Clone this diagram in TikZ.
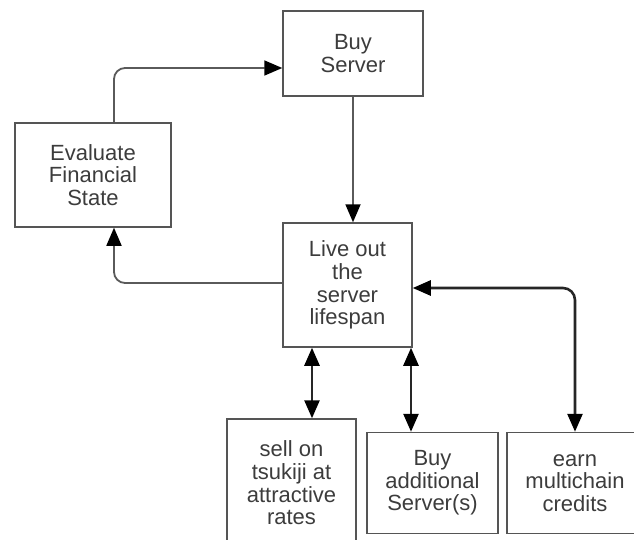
\documentclass[tikz,border=0pt]{standalone}
\usepackage{fontspec}
\setmainfont{Liberation Sans}
\usepackage{tikz}
\usetikzlibrary{positioning,arrows.meta}
\tikzset{>={Triangle[width=15pt,length=18pt,color=black]}}
\definecolor{boxgray}{HTML}{555555}
\definecolor{textgray}{HTML}{3C3C3C}
\definecolor{linegray}{HTML}{5A5A5A}

\begin{document}
\begin{tikzpicture}[
    x=1pt, y=-1pt,
    every node/.style={
        draw=boxgray,
        line width=1.5pt,
        align=center,
        inner sep=0pt,
        text=textgray,
        font=\fontsize{22}{22.7}\selectfont
        },
    upper link/.style={->, draw=linegray, line width=1.8pt, rounded corners=11pt},
    lower link/.style={<->, draw=black!85, line width=2.6pt, rounded corners=12pt}
    ]
    \clip (0,0) rectangle (634,540);
    \begin{scope}[on grid]
    \node[minimum width=140pt, minimum height=85pt] (buy) at (353,53.5) {Buy\\Server};
    \node[minimum width=129pt, minimum height=124pt] (live) [below left = 231.5pt and 5.5pt of buy] {Live out\\the\\server\\lifespan};
    \node[minimum width=156pt, minimum height=104pt] (eval) [above left = 110pt and 254.5pt of live] {Evaluate\\Financial\\State};
    \node[minimum width=129pt, minimum height=128pt] (sell) [below left = 198pt and 56pt of live] {sell on\\tsukiji at\\attractive\\rates};
    \node[minimum width=131pt, minimum height=101pt] (additional) [right = 141pt of sell] {Buy\\additional\\Server(s)};
    \node[minimum width=136pt, minimum height=101pt] (earn) [right = 142.5pt of additional] {earn\\multichain\\credits};
    \end{scope}

    \coordinate (sell top) at ([xshift=20.5pt]sell.north);
    \coordinate (additional top) at ([xshift=-21.5pt]additional.north);

    \draw[upper link] ([xshift=21pt]eval.north) |- ([yshift=-14.5pt]buy.west);
    \draw[upper link] ([yshift=2pt]live.west) -| ([xshift=21pt]eval.south);
    \draw[upper link] (buy.south) -- (live.north -| buy.south);
    \draw[lower link] (sell top) -- (sell top |- live.south);
    \draw[lower link] (additional top) -- (additional top |- live.south);
    \draw[lower link] ([yshift=-3pt]live.east) -| (earn.north);
\end{tikzpicture}
\end{document}
